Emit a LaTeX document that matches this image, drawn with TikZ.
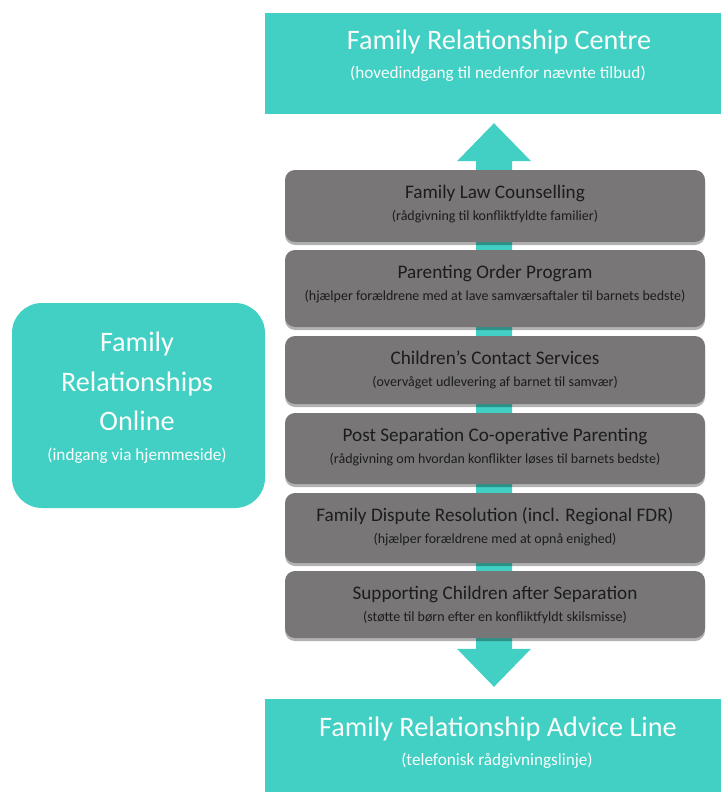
\documentclass[tikz,border=0pt]{standalone}
\usepackage{fontspec}
\setmainfont{Carlito}
\usetikzlibrary{shadows,calc}
\definecolor{tealc}{RGB}{65,208,195}
\definecolor{grayc}{RGB}{120,118,118}
\definecolor{darktxt}{RGB}{28,28,28}
\definecolor{lighttxt}{RGB}{250,252,252}
\tikzset{
  tealbox/.style={fill=tealc, draw=none, inner sep=0pt},
  graybox/.style={fill=grayc, draw=none, rounded corners=10pt, inner sep=0pt,
    minimum width=420pt,
    drop shadow={shadow xshift=0pt, shadow yshift=-3pt, opacity=0.3, fill=black}},
  bigtitle/.style={text=lighttxt, anchor=base, inner sep=0pt, font=\fontsize{28.2}{34}\selectfont},
  bigsub/.style={text=lighttxt, anchor=base, inner sep=0pt, font=\fontsize{17.2}{20}\selectfont},
  graytitle/.style={text=darktxt, anchor=base, inner sep=0pt, font=\fontsize{19.2}{23}\selectfont},
  graysub/.style={text=darktxt, anchor=base, inner sep=0pt, font=\fontsize{14}{17}\selectfont},
}
\begin{document}
\begin{tikzpicture}[x=1pt,y=-1pt]
\useasboundingbox (0,0) rectangle (721,792);
% teal boxes
\node[tealbox, minimum width=456pt, minimum height=101pt] (top) at (493,63.5) {};
\node[tealbox, minimum width=456pt, minimum height=93pt] (bot) at (493,745.5) {};
\node[tealbox, rounded corners=30pt, minimum width=253pt, minimum height=205pt] (left) at (138.5,405.5) {};
% double arrow
\coordinate (tipT) at ($(top.south)+(1,9)$);
\coordinate (tipB) at ($(bot.north)+(1,-12)$);
\fill[tealc] (tipT) -- ++(37,38) -- ++(-19,0) -- ($(tipB)+(18,-38)$) -- ++(19,0) -- (tipB)
  -- ++(-37,-38) -- ++(19,0) -- ($(tipT)+(-18,38)$) -- ++(-19,0) -- cycle;
% gray boxes
\node[graybox, minimum height=72pt] (b1) at (495,206) {};
\node[graybox, minimum height=77pt] (b2) at (495,288.5) {};
\node[graybox, minimum height=68pt] (b3) at (495,370) {};
\node[graybox, minimum height=71pt] (b4) at (495,448.5) {};
\node[graybox, minimum height=70pt] (b5) at (495,528) {};
\node[graybox, minimum height=67pt] (b6) at (495,604.5) {};
% texts in teal boxes
\node[bigtitle] (topt) at (499,49.3) {Family Relationship Centre};
\node[bigsub] (tops) at (498,78.3) {(hovedindgang til nedenfor nævnte tilbud)};
\node[bigtitle] (bott) at (498,736) {Family Relationship Advice Line};
\node[bigsub] (bots) at (497,765) {(telefonisk rådgivningslinje)};
\node[bigtitle] (l1) at (137,351.7) {Family};
\node[bigtitle] (l2) at (137,391.7) {Relationships};
\node[bigtitle] (l3) at (137,430) {Online};
\node[bigsub] (l4) at (137,460) {(indgang via hjemmeside)};
% texts in gray boxes
\node[graytitle] (t1) at ($(b1.north)+(0,28.5)$) {Family Law Counselling};
\node[graysub] (s1) at ($(b1.north)+(0,50.5)$) {(rådgivning til konfliktfyldte familier)};
\node[graytitle] (t2) at ($(b2.north)+(0,28.5)$) {Parenting Order Program};
\node[graysub] (s2) at ($(b2.north)+(0,50.5)$) {(hjælper forældrene med at lave samværsaftaler til barnets bedste)};
\node[graytitle] (t3) at ($(b3.north)+(0,28.5)$) {Children’s Contact Services};
\node[graysub] (s3) at ($(b3.north)+(0,50.5)$) {(overvåget udlevering af barnet til samvær)};
\node[graytitle] (t4) at ($(b4.north)+(0,28.5)$) {Post Separation Co-operative Parenting};
\node[graysub] (s4) at ($(b4.north)+(0,50.5)$) {(rådgivning om hvordan konflikter løses til barnets bedste)};
\node[graytitle] (t5) at ($(b5.north)+(0,28.5)$) {Family Dispute Resolution (incl. Regional FDR)};
\node[graysub] (s5) at ($(b5.north)+(0,50.5)$) {(hjælper forældrene med at opnå enighed)};
\node[graytitle] (t6) at ($(b6.north)+(0,28.5)$) {Supporting Children after Separation};
\node[graysub] (s6) at ($(b6.north)+(0,50.5)$) {(støtte til børn efter en konfliktfyldt skilsmisse)};
\end{tikzpicture}
\end{document}
